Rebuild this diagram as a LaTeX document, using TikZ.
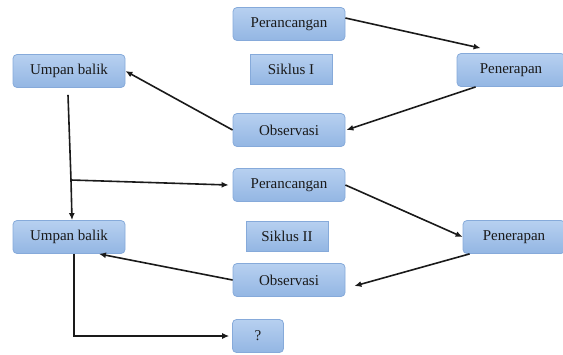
\documentclass[tikz,border=0pt]{standalone}
\usepackage{fontspec}
\setmainfont{Liberation Serif}
\usetikzlibrary{arrows.meta}
\definecolor{boxtop}{HTML}{B7D0F0}
\definecolor{boxbot}{HTML}{93B6E3}
\definecolor{boxline}{HTML}{86AADA}
\definecolor{ink}{HTML}{1A1A1A}
\tikzset{
  stage/.style={draw=boxline, line width=0.8pt, top color=boxtop, bottom color=boxbot,
    rounded corners=4pt, minimum width=112pt, minimum height=33pt, inner sep=0pt,
    text=ink, font=\rmfamily\fontsize{15}{17}\selectfont},
  cycle/.style={stage, rounded corners=0pt, minimum width=82pt, minimum height=30pt},
  flow/.style={-{Latex[length=7pt,width=6pt]}, line width=1.6pt, draw=ink}
}

\begin{document}
\begin{tikzpicture}[x=1pt,y=-1pt]
        \useasboundingbox (0,0) rectangle (563,354);
        \node[stage] (plan1) at (289,24) {Perancangan};
        \node[cycle] (cyc1) at (291,69) {Siklus I};
        \node[stage, minimum width=108pt] (act1) at (511,70) {Penerapan};
        \node[stage] (obs1) at (289,130) {Observasi};
        \node[stage] (fb1) at (69,71) {Umpan balik};
        \node[stage] (plan2) at (289,185) {Perancangan};
        \node[cycle] (cyc2) at (287,236) {Siklus II};
        \node[stage, minimum width=102pt] (act2) at (514,237) {Penerapan};
        \node[stage] (obs2) at (289,280) {Observasi};
        \node[stage] (fb2) at (69,237) {Umpan balik};
        \node[stage, minimum width=51pt] (q) at (258,336) {?};
        \coordinate (split) at (71,180);
        \draw[flow] ([yshift=6pt]plan1.east) -- ([xshift=24pt,yshift=5pt]act1.north west);
        \draw[flow] ([xshift=19pt]act1.south west) -- ([xshift=1pt]obs1.east);
        \draw[flow] (obs1.west) -- (fb1.east);
        \draw[line width=1.6pt, draw=ink] ([xshift=-1pt,yshift=-7pt]fb1.south) -- (split);
        \draw[flow] (split) -- ([xshift=3pt]fb2.north);
        \draw[flow] (split) -- ([xshift=-4pt]plan2.west);
        \draw[flow] (plan2.east) -- (act2.west);
        \draw[flow] ([xshift=7pt]act2.south west) -- ([xshift=9pt,yshift=-6pt]obs2.east);
        \draw[flow] (obs2.west) -- ([xshift=30pt]fb2.south);
        \draw[flow, line width=1.1pt] ([xshift=5pt]fb2.south) |- ([xshift=-3pt]q.west);
\end{tikzpicture}
\end{document}
